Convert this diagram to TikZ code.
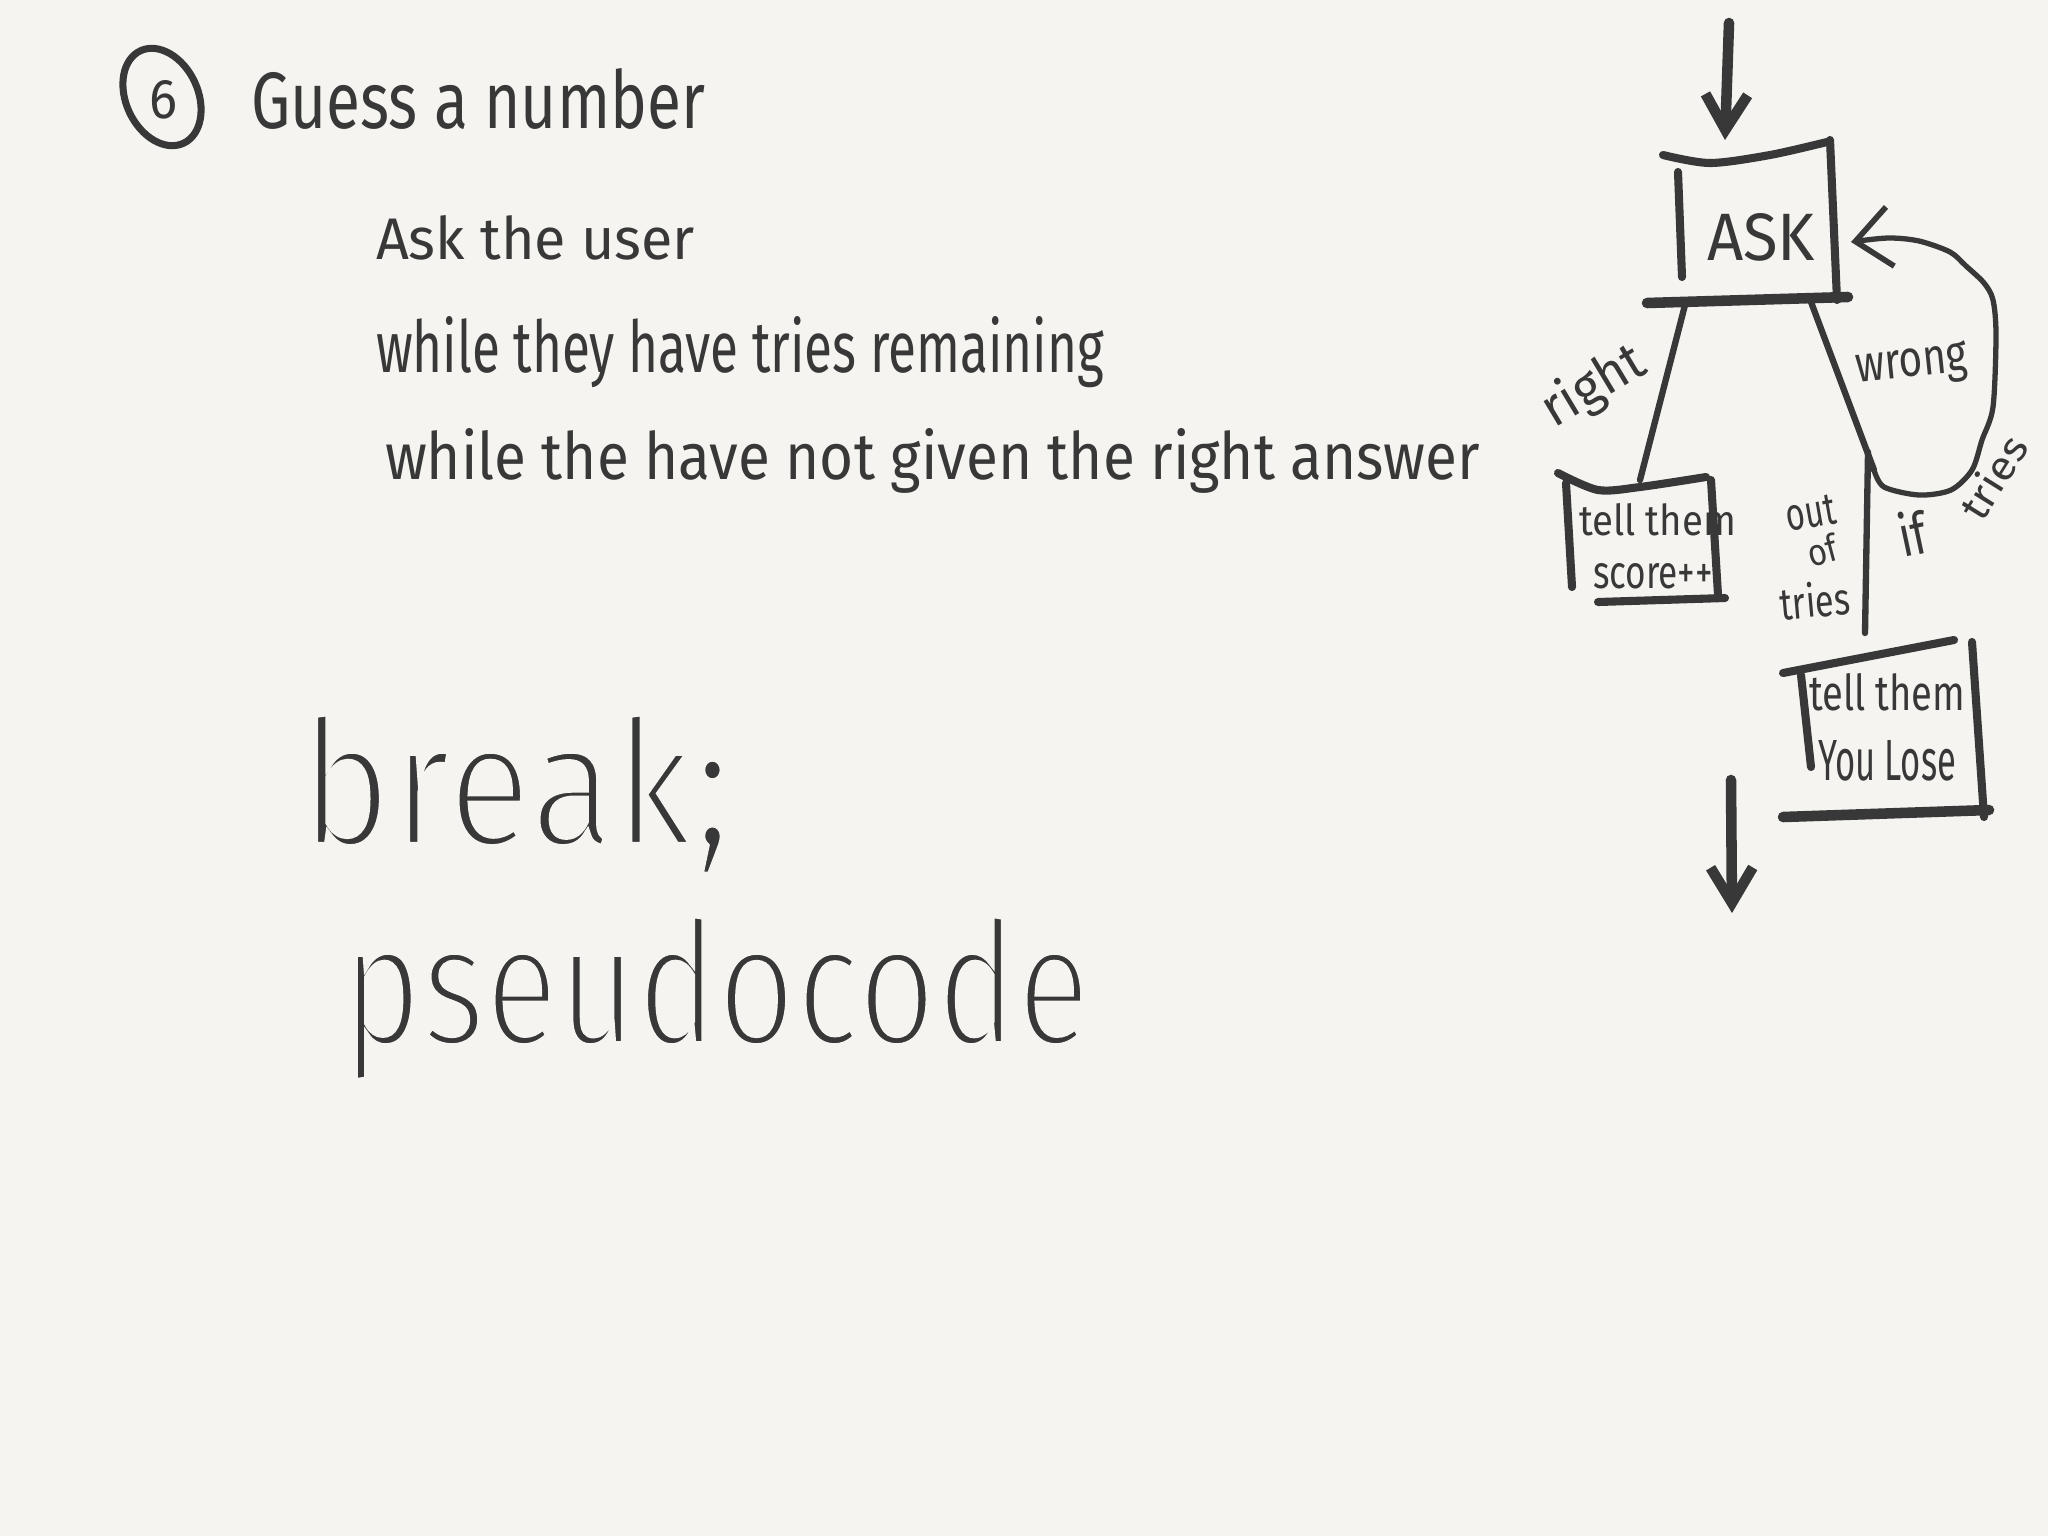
\documentclass[tikz,border=0pt]{standalone}
\usepackage{fontspec}
\usepackage{graphicx}
\usetikzlibrary{arrows.meta,shapes.geometric}
\setmainfont{Fira Sans}
\newfontfamily\hand{Fira Sans}
\definecolor{paper}{RGB}{245,244,240}
\definecolor{ink}{RGB}{56,56,56}
\newlength\upx
\setlength\upx{0.01cm}
\newcommand\fitt[3]{\resizebox{#1\upx}{#2\upx}{#3}}
\newcommand\thinned[2]{\special{pdf:literal direct 2 Tr 0.961 0.957 0.941 RG #1 w}#2\special{pdf:literal direct 0 Tr}}
\begin{document}
\begin{tikzpicture}[x=0.01cm,y=-0.01cm,
  txt/.style={inner sep=0pt, outer sep=0pt, text=ink, font=\hand},
  bigtxt/.style={inner sep=0pt, outer sep=0pt, text=ink, font=\hand},
  box/.style={draw=ink, line width=2.3pt, line cap=round},
  conn/.style={draw=ink, line width=1.8pt, line cap=round},
  bigarrow/.style={draw=ink, line width=3pt, line cap=round, -{Straight Barb[length=10pt,width=12pt,line width=3pt]}},
  looparrow/.style={draw=ink, line width=1.5pt, line cap=round, -{Straight Barb[length=10pt,width=17pt,line width=1.6pt]}}]
\useasboundingbox (0,0) rectangle (2048,1536);
\fill[paper] (0,0) rectangle (2048,1536);

% ---- header ----
\node[draw=ink, line width=2pt, ellipse, minimum width=72\upx, minimum height=102\upx, rotate=25, inner sep=0pt] (num) at (162,97) {};
\node[txt] (six) at (163,100) {\fitt{28}{38}{6}};
\node[txt, anchor=base west] (title) at (251,128) {\fitt{454}{60}{Guess a number}};

% ---- pseudocode lines ----
\node[txt, anchor=base west] (l1) at (376,259) {\fitt{319}{44}{Ask the user}};
\node[txt, anchor=base west] (l2) at (376,372) {\fitt{728}{56}{while they have tries remaining}};
\node[txt, anchor=base west] (l3) at (385,479) {\fitt{1095}{51}{while the have not given the right answer}};

% ---- big words ----
\node[bigtxt, anchor=base west] (brk) at (300,846) {\fitt{431}{134}{\thinned{0.45}{break;}}};
\node[bigtxt, anchor=base west] (pseudo) at (342,1045) {\fitt{748}{131}{\thinned{0.45}{pseudocode}}};

% ---- flowchart: ASK ----
\node[txt, anchor=base west] (ask) at (1707,260) {\fitt{108}{47}{ASK}};
\draw[box] plot[smooth] coordinates {(1663,155) (1710,163) (1770,155) (1827,142)};
\draw[box] (1678,172) -- (1682,277);
\draw[box] (1830,140) -- (1837,300);
\draw[box, line width=3pt] (1647,303) -- (1848,297);

\coordinate (inTop) at (1729,23);
\coordinate (askTop) at (1725,140);
\draw[bigarrow] (inTop) -- (askTop);

% ---- score box ----
\draw[box] plot[smooth] coordinates {(1558,473) (1598,490) (1640,487) (1706,477)};
\draw[box] (1566,483) -- (1572,587);
\draw[box] (1711,480) -- (1718,595);
\draw[box] (1598,602) -- (1725,598);
\node[txt, anchor=base west] (score1) at (1579,535) {\fitt{157}{32}{tell them}};
\node[txt, anchor=base west] (score2) at (1593,588) {\fitt{120}{25}{score++}};

% ---- lose box ----
\draw[box] (1783,673) -- (1954,640);
\draw[box] (1801,675) -- (1811,767);
\draw[box] (1972,642) -- (1984,817);
\draw[box, line width=3pt] (1783,817) -- (1989,810);
\node[txt, anchor=base west] (lose1) at (1809,710) {\fitt{156}{37}{tell them}};
\node[txt, anchor=base west] (lose2) at (1818,780) {\fitt{138}{40}{You Lose}};

% ---- connectors ----
\coordinate (askBL) at (1685,305);
\coordinate (scoreTop) at (1640,480);
\coordinate (askBR) at (1811,302);
\coordinate (junc) at (1874,470);
\coordinate (juncV) at (1868,452);
\coordinate (loseTop) at (1865,633);
\coordinate (askR) at (1851,242);
\draw[conn] (askBL) -- (scoreTop);
\draw[conn] (askBR) -- (junc);
\draw[conn] (juncV) -- (loseTop);
\draw[looparrow] plot[smooth] coordinates {(junc) (1884,487) (1919,495) (1951,490) (1972,470) (1982,440) (1993,407) (1996,335) (1993,300) (1984,283) (1966,266) (1950,252) (1919,241) (1888,238) (askR)};

\coordinate (outStart) at (1731,780);
\coordinate (outEnd) at (1732,913);
\draw[bigarrow] (outStart) -- (outEnd);

% ---- labels ----
\node[txt, rotate=31] (lright) at (1594,387) {\fitt{110}{42}{right}};
\node[txt, rotate=6] (lwrong) at (1912,367) {\fitt{112}{30}{wrong}};
\node[txt, rotate=58] (ltries) at (1993,477) {\fitt{90}{32}{tries}};
\node[txt, rotate=12] (lif) at (1912,533) {\fitt{28}{45}{if}};
\node[txt, rotate=10] (lout) at (1811,513) {\fitt{50}{30}{out}};
\node[txt, rotate=15] (lof) at (1822,550) {\fitt{30}{28}{of}};
\node[txt, rotate=5] (ltries2) at (1815,600) {\fitt{70}{35}{tries}};
\end{tikzpicture}
\end{document}
